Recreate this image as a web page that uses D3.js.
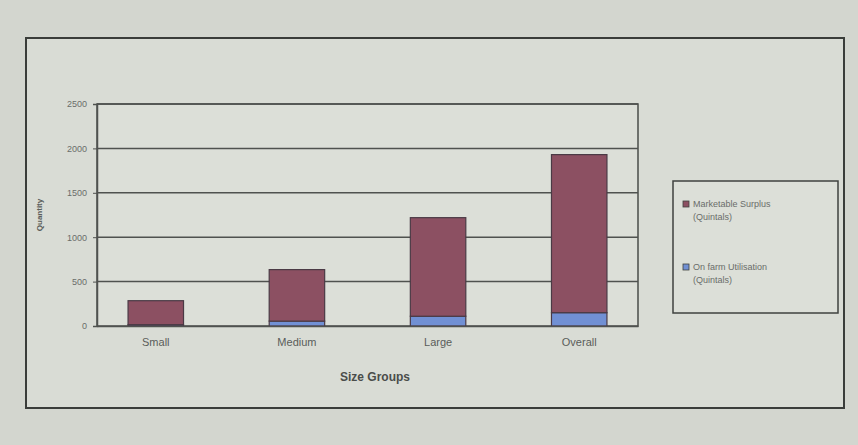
<!DOCTYPE html>
<meta charset="utf-8">
<style>
    body { margin: 0; background: #d3d6cf; }
    svg { display: block; }
    .frame { fill: #d9dcd5; stroke: #3a3d3a; stroke-width: 2px; }
    .plot { fill: #dcdfd8; stroke: #4a4d4a; stroke-width: 1.5px; }
    .grid line { stroke: #4f524f; stroke-width: 1.5px; }
    .axis text { font-family: "Liberation Sans", Arial, sans-serif; fill: #6a6d6a; }
    .axis path, .axis line { stroke: #4f524f; }
    .legend rect.box { fill: #dcdfd8; stroke: #3f423f; stroke-width: 1.5px; }
    .legend text { font: 9px "Liberation Sans", Arial, sans-serif; fill: #6a6d6a; }
</style>
<svg></svg>
<script src="https://cdn.jsdelivr.net/npm/d3@7"></script>
<script>

    var width = 858,
        height = 445;

    // values (quintals)
    var groups = ["Small", "Medium", "Large", "Overall"];
    var onFarm = [15, 55, 110, 150];
    var marketable = [270, 580, 1110, 1780];
    var seriesNames = ["On farm Utilisation", "Marketable Surplus"];
    var yTicks = [0, 500, 1000, 1500, 2000, 2500];

    var colors = {"On farm Utilisation": "#7190d4", "Marketable Surplus": "#8c5062"};

    var margin = {left: 97, right: 220, top: 104, bottom: 119};

    var svg = d3.select("svg")
        .attr("width", width)
        .attr("height", height);

    // page frame
    svg.append("rect")
        .attr("class", "frame")
        .attr("x", 26).attr("y", 38)
        .attr("width", 818).attr("height", 370);

    var x = d3.scaleBand()
        .domain(groups)
        .range([margin.left, width - margin.right])
        .paddingInner(0.607)
        .paddingOuter(0.22);

    var y = d3.scaleLinear()
        .domain([0, 2500])
        .range([height - margin.bottom, margin.top]);

    svg.append("rect")
        .attr("class", "plot")
        .attr("x", margin.left).attr("y", margin.top)
        .attr("width", width - margin.right - margin.left)
        .attr("height", y(0) - margin.top);

    svg.append("g")
        .attr("class", "grid")
        .selectAll("line")
        .data(yTicks.slice(1))
        .enter().append("line")
        .attr("x1", margin.left).attr("x2", width - margin.right)
        .attr("y1", function(d) { return y(d); })
        .attr("y2", function(d) { return y(d); });

    var rows = groups.map(function(g, i) {
        return {group: g, "On farm Utilisation": onFarm[i], "Marketable Surplus": marketable[i]};
    });
    var stack = d3.stack().keys(seriesNames)(rows);

    svg.append("g")
        .selectAll("g")
        .data(stack)
        .enter().append("g")
        .attr("fill", function(d) { return colors[d.key]; })
        .attr("stroke", "#4a3a45")
        .attr("stroke-width", 1.2)
        .selectAll("rect")
        .data(function(d) { return d; })
        .enter().append("rect")
        .attr("x", function(d) { return x(d.data.group); })
        .attr("width", x.bandwidth())
        .attr("y", function(d) { return y(d[1]); })
        .attr("height", function(d) { return y(d[0]) - y(d[1]); });

    // y axis
    var yAxis = svg.append("g")
        .attr("class", "axis")
        .attr("transform", "translate(" + margin.left + ",0)")
        .call(d3.axisLeft(y).tickValues(yTicks).tickFormat(d3.format("d")).tickSize(4).tickPadding(6));
    yAxis.selectAll("text").style("font-size", "9px");
    yAxis.select(".domain").attr("stroke-width", 1.5);

    // x axis
    var xAxis = svg.append("g")
        .attr("class", "axis")
        .attr("transform", "translate(0," + y(0) + ")")
        .call(d3.axisBottom(x).tickSize(0).tickPadding(12));
    xAxis.select(".domain").attr("stroke-width", 1.5);
    xAxis.selectAll("text").style("font-size", "11px").style("fill", "#5a5d5a");

    svg.append("text")
        .attr("transform", "translate(42," + (margin.top + (y(0) - margin.top) / 2) + ") rotate(-90)")
        .attr("text-anchor", "middle")
        .style("font", "bold 8px 'Liberation Sans', Arial, sans-serif")
        .style("fill", "#5a5d5a")
        .text("Quantity");

    svg.append("text")
        .attr("x", 375).attr("y", 381)
        .attr("text-anchor", "middle")
        .style("font", "bold 12px 'Liberation Sans', Arial, sans-serif")
        .style("fill", "#4a4d4a")
        .text("Size Groups");

    // legend
    var legend = svg.append("g").attr("class", "legend");
    legend.append("rect").attr("class", "box")
        .attr("x", 673).attr("y", 181).attr("width", 165).attr("height", 132);

    var items = legend.selectAll("g.item")
        .data(seriesNames.slice().reverse())
        .enter().append("g")
        .attr("class", "item")
        .attr("transform", function(d, i) { return "translate(683," + (207 + i * 63) + ")"; });

    items.append("rect")
        .attr("x", 0).attr("y", -6).attr("width", 6).attr("height", 6)
        .attr("fill", function(d) { return colors[d]; })
        .attr("stroke", "#3f423f").attr("stroke-width", 0.8);

    items.append("text").attr("x", 10).attr("y", 0).text(function(d) { return d; });
    items.append("text").attr("x", 10).attr("y", 13).text("(Quintals)");

</script>
